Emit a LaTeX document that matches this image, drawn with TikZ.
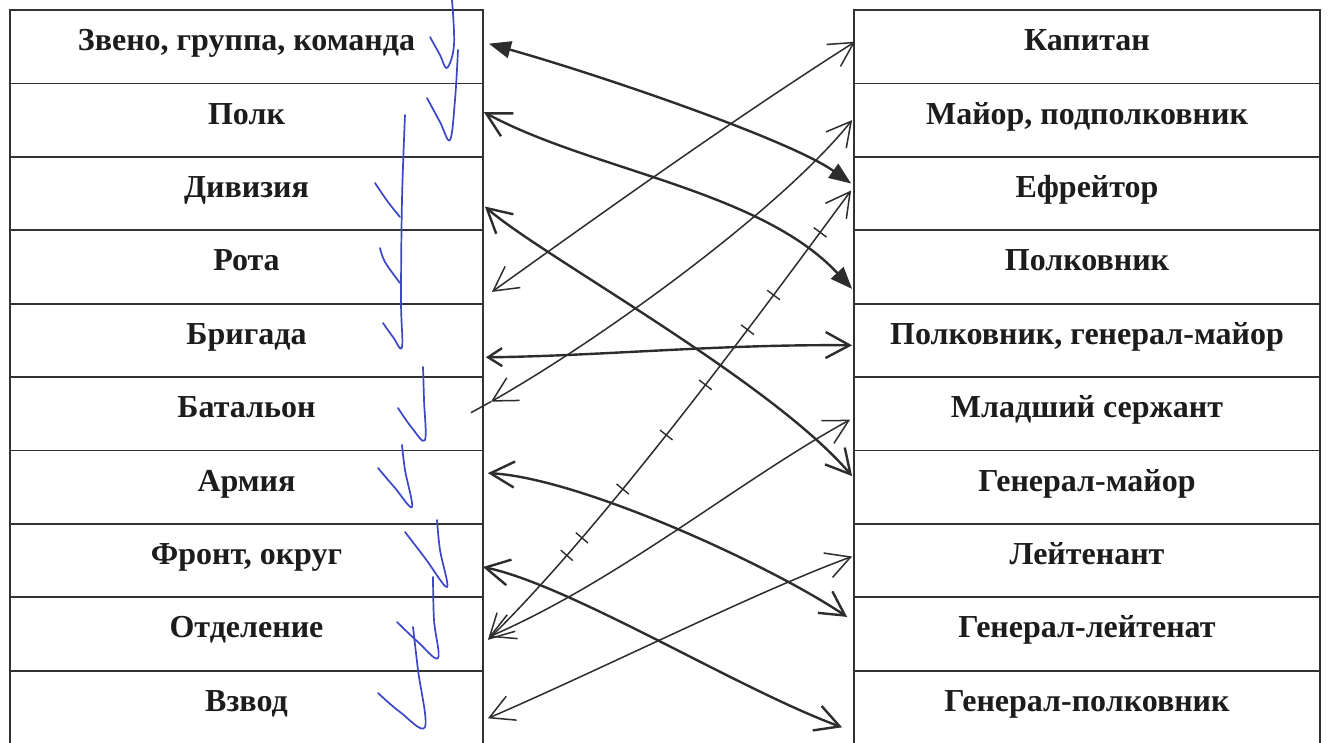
\documentclass[tikz,border=0pt]{standalone}
\usepackage{fontspec}
\setmainfont{Liberation Serif}
\usetikzlibrary{arrows.meta,decorations.markings}
\definecolor{ink}{RGB}{45,45,45}
\definecolor{textink}{RGB}{28,28,28}
\definecolor{tabline}{RGB}{50,50,50}
\definecolor{pen}{RGB}{60,70,200}
\begin{document}
\begin{tikzpicture}[x=1pt,y=-1pt,
  cellL/.style={draw=tabline,line width=1.8pt,minimum width=473pt,minimum height=73.4pt,inner sep=0pt,
    font=\fontsize{32}{36}\selectfont\bfseries,text=textink,text height=22pt,text depth=14pt},
  cellR/.style={cellL,minimum width=466pt},
  thick link/.style={draw=ink,line width=2.4pt},
  thin link/.style={draw=ink,line width=1.5pt},
  open/.tip={Straight Barb[length=24pt,width=26pt]},
  solid/.tip={Triangle[length=22pt,width=17pt]},
  tickmark/.style={draw=ink,line width=1.4pt,arrows=-},
  ticks/.style={postaction={decorate,decoration={markings,
    mark=at position 0.20 with {\draw[tickmark] (0,-8pt)--(0,8pt);},
    mark=at position 0.24 with {\draw[tickmark] (0,-8pt)--(0,8pt);},
    mark=at position 0.35 with {\draw[tickmark] (0,-8pt)--(0,8pt);},
    mark=at position 0.47 with {\draw[tickmark] (0,-8pt)--(0,8pt);},
    mark=at position 0.58 with {\draw[tickmark] (0,-8pt)--(0,8pt);},
    mark=at position 0.70 with {\draw[tickmark] (0,-8pt)--(0,8pt);},
    mark=at position 0.775 with {\draw[tickmark] (0,-8pt)--(0,8pt);},
    mark=at position 0.91 with {\draw[tickmark] (0,-8pt)--(0,8pt);}}}},
  check/.style={draw=pen,line width=1.7pt,line cap=round,line join=round}
]
\fill[white] (0,0) rectangle (1328,742);
\useasboundingbox (0,0) rectangle (1328,742);

% left column
\node[cellL] (L0) at (246.5,46.7)  {Звено, группа, команда};
\node[cellL] (L1) at (246.5,120.1) {Полк};
\node[cellL] (L2) at (246.5,193.5) {Дивизия};
\node[cellL] (L3) at (246.5,266.9) {Рота};
\node[cellL] (L4) at (246.5,340.3) {Бригада};
\node[cellL] (L5) at (246.5,413.7) {Батальон};
\node[cellL] (L6) at (246.5,487.1) {Армия};
\node[cellL] (L7) at (246.5,560.5) {Фронт, округ};
\node[cellL] (L8) at (246.5,633.9) {Отделение};
\node[cellL] (L9) at (246.5,707.3) {Взвод};

% right column
\node[cellR] (R0) at (1087,46.7)  {Капитан};
\node[cellR] (R1) at (1087,120.1) {Майор, подполковник};
\node[cellR] (R2) at (1087,193.5) {Ефрейтор};
\node[cellR] (R3) at (1087,266.9) {Полковник};
\node[cellR] (R4) at (1087,340.3) {Полковник, генерал-майор};
\node[cellR] (R5) at (1087,413.7) {Младший сержант};
\node[cellR] (R6) at (1087,487.1) {Генерал-майор};
\node[cellR] (R7) at (1087,560.5) {Лейтенант};
\node[cellR] (R8) at (1087,633.9) {Генерал-лейтенат};
\node[cellR] (R9) at (1087,707.3) {Генерал-полковник};

% connectors
\draw[thick link,{solid}-{solid}] ([shift={(5pt,3pt)}]L0.east) .. controls (600,75) and (790,140) .. ([shift={(-2pt,10pt)}]R2.west);
\draw[thick link,{open}-{solid}] ([shift={(0pt,8pt)}]L1.east) .. controls (590,170) and (760,190) .. ([shift={(-1pt,-22pt)}]R3.west);
\draw[thin link,{open}-{open}] ([shift={(8pt,-25pt)}]L3.east) .. controls (620,200) and (740,115) .. ([shift={(2pt,5pt)}]R0.west);
\draw[thick link,{open}-{open}] ([shift={(1pt,-13pt)}]L2.east) .. controls (540,255) and (770,380) .. ([shift={(-1pt,11pt)}]R6.west);
\draw[thick link,{Straight Barb[length=14pt,width=18pt]}-{open}] ([shift={(2pt,-17pt)}]L4.east) .. controls (600,356) and (720,344) .. ([shift={(-1pt,-5pt)}]R4.west);
\draw[thin link,{open}-{open}] ([shift={(7pt,12pt)}]L5.east) coordinate (L5tip) .. controls (600,340) and (780,210) .. ([shift={(-1pt,0pt)}]R1.west);
\draw[thin link] (L5tip) -- ++(-20,11);
\draw[thin link,ticks,{open}-{open}] ([shift={(4pt,-6pt)}]L8.east) .. controls (610,520) and (770,300) .. ([shift={(-2pt,3pt)}]R2.west);
\draw[thin link,{open}-{open}] ([shift={(5pt,-3pt)}]L8.east) .. controls (620,580) and (740,480) .. ([shift={(-3pt,-6pt)}]R5.west);
\draw[thin link,{open}-{open}] ([shift={(4pt,-11pt)}]L9.east) .. controls (600,670) and (760,590) .. ([shift={(-1pt,4pt)}]R7.west);
\draw[thick link,{open}-{open}] ([shift={(4pt,14pt)}]L6.east) .. controls (580,478) and (770,565) .. ([shift={(-6pt,17pt)}]R8.west);
\draw[thick link,{open}-{open}] ([shift={(-1pt,-6.5pt)}]L7.east) .. controls (570,585) and (740,690) .. ([shift={(-11pt,-20pt)}]R9.west);

% blue check marks
\draw[check] plot[smooth,tension=0.6] coordinates {(430,37) (440,55) (447,68) (454,45) (452,0)};
\draw[check] plot[smooth,tension=0.6] coordinates {(427,98) (440,122) (450,140) (455,100) (458,50)};
\draw[check] plot[smooth,tension=0.6] coordinates {(375,183) (388,202) (400,217)};
\draw[check] plot[smooth,tension=0.6] coordinates {(380,248) (385,262) (400,283)};
\draw[check] plot[smooth,tension=0.6] coordinates {(383,323) (393,337) (402,347) (401,300) (402,200) (405,115)};
\draw[check] plot[smooth,tension=0.6] coordinates {(398,408) (412,428) (425,440) (424,400) (423,367)};
\draw[check] plot[smooth,tension=0.6] coordinates {(378,468) (395,488) (412,507) (405,470) (402,445)};
\draw[check] plot[smooth,tension=0.6] coordinates {(405,532) (425,558) (447,587) (440,550) (437,520)};
\draw[check] plot[smooth,tension=0.6] coordinates {(397,622) (418,642) (438,658) (434,620) (433,577)};
\draw[check] plot[smooth,tension=0.6] coordinates {(378,693) (400,712) (425,727) (418,670) (413,627)};
\end{tikzpicture}
\end{document}
